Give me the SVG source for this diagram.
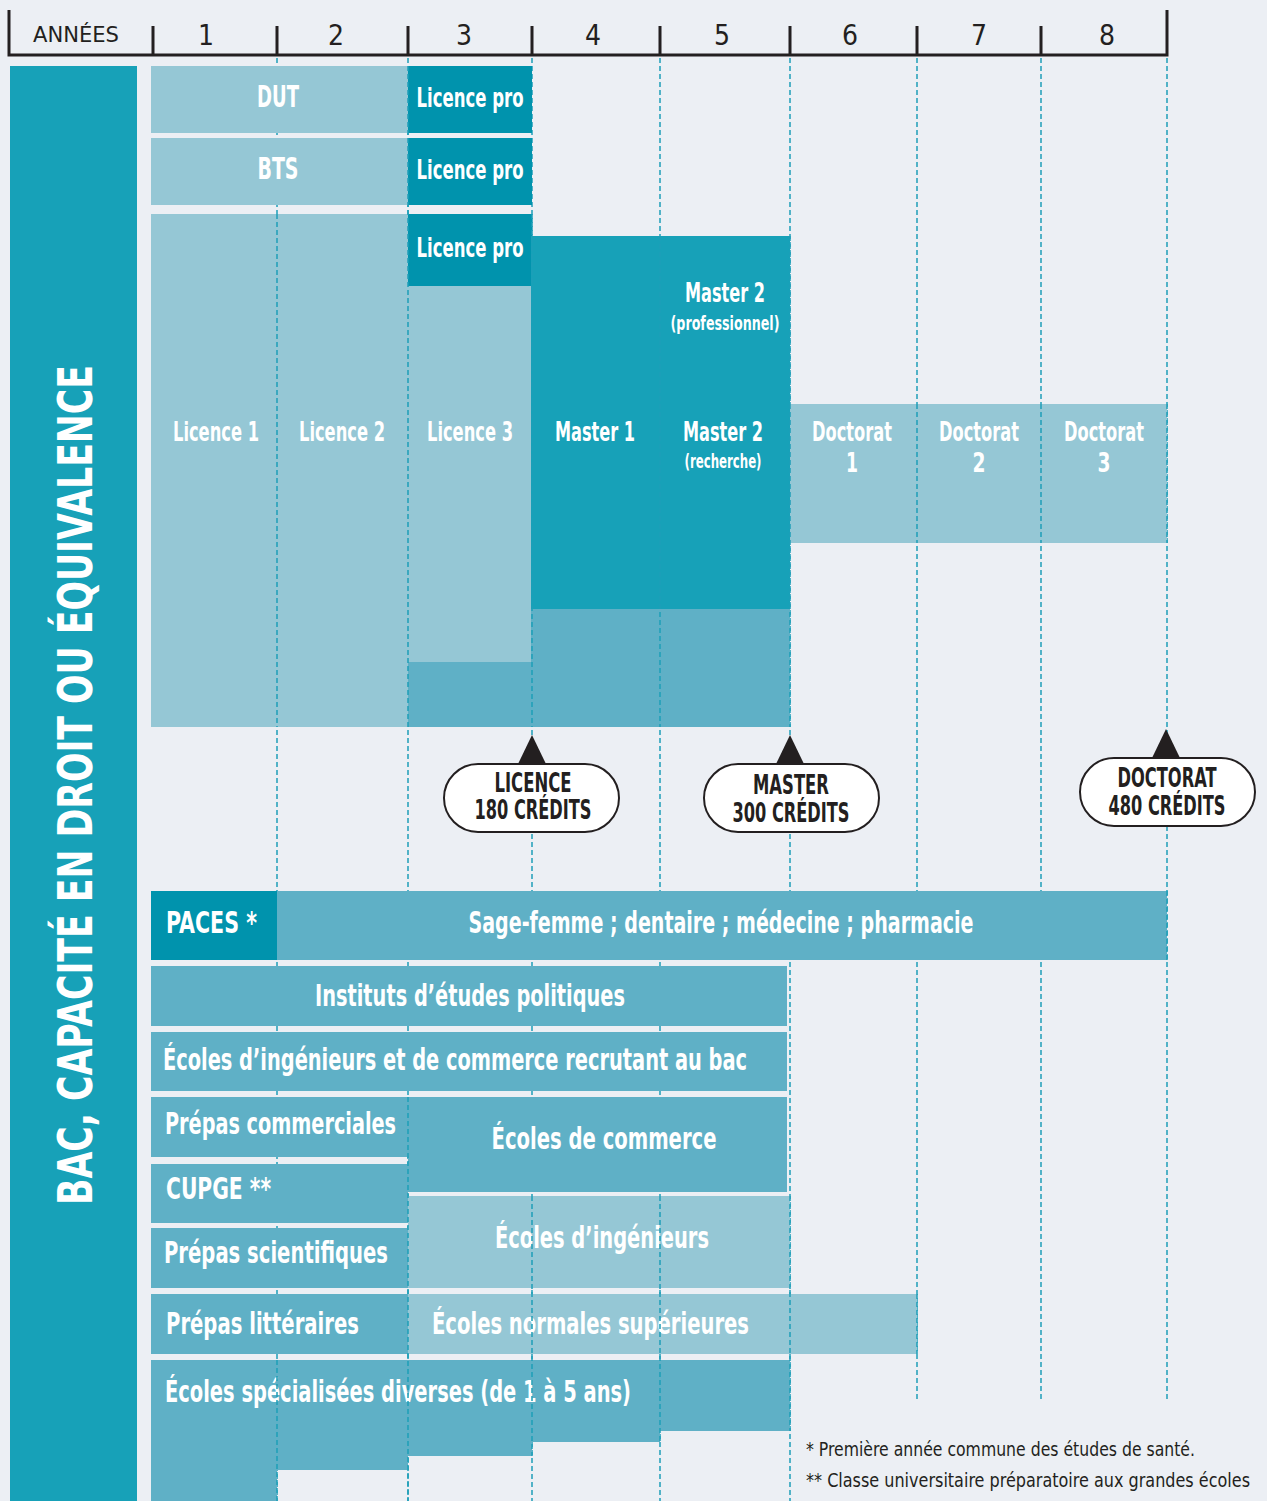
<svg xmlns="http://www.w3.org/2000/svg" width="1267" height="1501" viewBox="0 0 1267 1501">
<defs>
<style>
.bg{fill:#ECEFF4}
.lt{fill:#95C7D5}
.dk{fill:#0093AD}
.md{fill:#17A1B8}
.lo{fill:#5FB0C6}
.grid{stroke:#1E9FB8;stroke-width:1.5;stroke-dasharray:5 3;fill:none}
.axis{stroke:#231F20;stroke-width:3;fill:none}
.t{font-family:"Liberation Sans Narrow","DejaVu Sans Condensed","Liberation Sans",sans-serif}
.w{fill:#FFFFFF;font-weight:bold}
.k{fill:#231F20}
.pill{fill:#FFFFFF;stroke:#231F20;stroke-width:2}
.ptr{fill:#231F20}
</style>
</defs>
<rect class="bg" x="0" y="0" width="1267" height="1501"/>

<g id="grid">
<path class="grid" d="M277 58 V1501 M408 58 V1501 M532 58 V1501 M660 58 V1501 M790 58 V1501 M917 58 V1402 M1041 58 V1402 M1167 58 V1402"/>
</g>

<g id="axis">
<path class="axis" d="M9 10 V55 H1167 V10 M153 26 V55 M277 26 V55 M408 26 V55 M532 26 V55 M660 26 V55 M790 26 V55 M917 26 V55 M1041 26 V55"/>
<text class="t k" x="76" y="42" font-size="22" text-anchor="middle" textLength="86" lengthAdjust="spacingAndGlyphs">ANNÉES</text>
<g class="t k" font-size="28" text-anchor="middle">
<text x="206" y="45">1</text>
<text x="336" y="45">2</text>
<text x="464" y="45">3</text>
<text x="593" y="45">4</text>
<text x="722" y="45">5</text>
<text x="850" y="45">6</text>
<text x="979" y="45">7</text>
<text x="1107" y="45">8</text>
</g>
</g>

<g id="bac">
<rect class="md" x="10" y="66" width="127" height="1435"/>
<text class="t w" transform="translate(92,785) rotate(-90)" font-size="48" text-anchor="middle" textLength="840" lengthAdjust="spacingAndGlyphs">BAC, CAPACITÉ EN DROIT OU ÉQUIVALENCE</text>
</g>

<g id="dut">
<rect class="lt" x="151" y="66" width="257" height="67"/>
<text class="t w" x="278" y="107" font-size="30" text-anchor="middle" textLength="42" lengthAdjust="spacingAndGlyphs">DUT</text>
</g>
<g id="licpro1">
<rect class="dk" x="408" y="66" width="124" height="67"/>
<text class="t w" x="470" y="107" font-size="26" text-anchor="middle" textLength="107" lengthAdjust="spacingAndGlyphs">Licence pro</text>
</g>
<g id="bts">
<rect class="lt" x="151" y="138" width="257" height="67"/>
<text class="t w" x="278" y="179" font-size="30" text-anchor="middle" textLength="41" lengthAdjust="spacingAndGlyphs">BTS</text>
</g>
<g id="licpro2">
<rect class="dk" x="408" y="138" width="124" height="67"/>
<text class="t w" x="470" y="179" font-size="26" text-anchor="middle" textLength="107" lengthAdjust="spacingAndGlyphs">Licence pro</text>
</g>

<g id="licence12">
<rect class="lt" x="151" y="214" width="257" height="513"/>
<text class="t w" x="216" y="441" font-size="27" text-anchor="middle" textLength="86" lengthAdjust="spacingAndGlyphs">Licence 1</text>
<text class="t w" x="342" y="441" font-size="27" text-anchor="middle" textLength="86" lengthAdjust="spacingAndGlyphs">Licence 2</text>
</g>
<g id="licpro3">
<rect class="dk" x="408" y="214" width="124" height="72"/>
<text class="t w" x="470" y="257" font-size="26" text-anchor="middle" textLength="107" lengthAdjust="spacingAndGlyphs">Licence pro</text>
</g>
<g id="licence3">
<rect class="lt" x="408" y="286" width="124" height="376"/>
<text class="t w" x="470" y="441" font-size="27" text-anchor="middle" textLength="86" lengthAdjust="spacingAndGlyphs">Licence 3</text>
</g>
<g id="master">
<rect class="md" x="531" y="236" width="259" height="373"/>
<text class="t w" x="595" y="441" font-size="27" text-anchor="middle" textLength="80" lengthAdjust="spacingAndGlyphs">Master 1</text>
<text class="t w" x="725" y="302" font-size="27" text-anchor="middle" textLength="80" lengthAdjust="spacingAndGlyphs">Master 2</text>
<text class="t w" x="725" y="330" font-size="19" text-anchor="middle" textLength="109" lengthAdjust="spacingAndGlyphs">(professionnel)</text>
<text class="t w" x="723" y="441" font-size="27" text-anchor="middle" textLength="80" lengthAdjust="spacingAndGlyphs">Master 2</text>
<text class="t w" x="723" y="468" font-size="19" text-anchor="middle" textLength="77" lengthAdjust="spacingAndGlyphs">(recherche)</text>
</g>
<g id="lower-lm">
<path class="lo" d="M408 662 H531 V609 H790 V727 H408 Z"/>
</g>
<g id="doctorat">
<rect class="lt" x="790" y="404" width="377" height="139"/>
<text class="t w" x="852" y="441" font-size="27" text-anchor="middle" textLength="80" lengthAdjust="spacingAndGlyphs">Doctorat</text>
<text class="t w" x="852" y="472" font-size="27" text-anchor="middle" textLength="12" lengthAdjust="spacingAndGlyphs">1</text>
<text class="t w" x="979" y="441" font-size="27" text-anchor="middle" textLength="80" lengthAdjust="spacingAndGlyphs">Doctorat</text>
<text class="t w" x="979" y="472" font-size="27" text-anchor="middle" textLength="13" lengthAdjust="spacingAndGlyphs">2</text>
<text class="t w" x="1104" y="441" font-size="27" text-anchor="middle" textLength="80" lengthAdjust="spacingAndGlyphs">Doctorat</text>
<text class="t w" x="1104" y="472" font-size="27" text-anchor="middle" textLength="13" lengthAdjust="spacingAndGlyphs">3</text>
</g>

<g id="paces">
<rect class="dk" x="151" y="891" width="126" height="69"/>
<text class="t w" x="166" y="933" font-size="30" textLength="91" lengthAdjust="spacingAndGlyphs">PACES *</text>
</g>
<g id="sante">
<rect class="lo" x="277" y="891" width="890" height="69"/>
<text class="t w" x="721" y="933" font-size="30" text-anchor="middle" textLength="505" lengthAdjust="spacingAndGlyphs">Sage-femme ; dentaire ; médecine ; pharmacie</text>
</g>
<g id="iep">
<rect class="lo" x="151" y="966" width="636" height="60"/>
<text class="t w" x="470" y="1006" font-size="31" text-anchor="middle" textLength="310" lengthAdjust="spacingAndGlyphs">Instituts d’études politiques</text>
</g>
<g id="ecoles-bac">
<rect class="lo" x="151" y="1032" width="636" height="59"/>
<text class="t w" x="163" y="1070" font-size="31" textLength="584" lengthAdjust="spacingAndGlyphs">Écoles d’ingénieurs et de commerce recrutant au bac</text>
</g>
<g id="prepas-com">
<rect class="lo" x="151" y="1097" width="257" height="60"/>
<text class="t w" x="165" y="1134" font-size="31" textLength="231" lengthAdjust="spacingAndGlyphs">Prépas commerciales</text>
</g>
<g id="ecoles-commerce">
<rect class="lo" x="408" y="1097" width="379" height="95"/>
<text class="t w" x="604" y="1149" font-size="31" text-anchor="middle" textLength="225" lengthAdjust="spacingAndGlyphs">Écoles de commerce</text>
</g>
<g id="cupge">
<rect class="lo" x="151" y="1164" width="257" height="59"/>
<text class="t w" x="166" y="1199" font-size="31" textLength="105" lengthAdjust="spacingAndGlyphs">CUPGE **</text>
</g>
<g id="ecoles-ing">
<rect class="lt" x="408" y="1196" width="382" height="92"/>
<text class="t w" x="602" y="1248" font-size="31" text-anchor="middle" textLength="214" lengthAdjust="spacingAndGlyphs">Écoles d’ingénieurs</text>
</g>
<g id="prepas-sci">
<rect class="lo" x="151" y="1228" width="257" height="60"/>
<text class="t w" x="164" y="1263" font-size="31" textLength="224" lengthAdjust="spacingAndGlyphs">Prépas scientifiques</text>
</g>
<g id="prepas-lit">
<rect class="lo" x="151" y="1294" width="257" height="60"/>
<text class="t w" x="166" y="1334" font-size="31" textLength="193" lengthAdjust="spacingAndGlyphs">Prépas littéraires</text>
</g>
<g id="ens">
<rect class="lt" x="408" y="1294" width="509" height="60"/>
<text class="t w" x="432" y="1334" font-size="31" textLength="317" lengthAdjust="spacingAndGlyphs">Écoles normales supérieures</text>
</g>
<g id="ecoles-spe">
<path class="lo" d="M151 1360 H790 V1431 H660 V1442 H532 V1456 H408 V1470 H277 V1501 H151 Z"/>
<text class="t w" x="165" y="1402" font-size="31" textLength="466" lengthAdjust="spacingAndGlyphs">Écoles spécialisées diverses (de 1 à 5 ans)</text>
</g>

<g id="grid-over">
<path class="grid" d="M277 214 V727 M277 1360 V1501 M408 66 V727 M408 1097 V1501 M532 214 V727 M532 1196 V1456 M660 236 V727 M660 1196 V1442 M790 236 V727 M790 1196 V1431 M917 404 V543 M917 1294 V1354 M1041 404 V543 M1167 404 V543 M1167 891 V960"/>
</g>

<g id="connectors">
<path class="ptr" d="M532 735 L546 764 H518 Z"/>
<path class="ptr" d="M790 735 L804 764 H776 Z"/>
<path class="ptr" d="M1166 729 L1180 758 H1152 Z"/>
</g>

<g id="badge-licence">
<rect class="pill" x="444" y="764" width="175" height="68" rx="34"/>
<text class="t k" x="533" y="792" font-size="26" font-weight="bold" text-anchor="middle" textLength="77" lengthAdjust="spacingAndGlyphs">LICENCE</text>
<text class="t k" x="533" y="819" font-size="26" font-weight="bold" text-anchor="middle" textLength="117" lengthAdjust="spacingAndGlyphs">180 CRÉDITS</text>
</g>
<g id="badge-master">
<rect class="pill" x="704" y="764" width="175" height="68" rx="34"/>
<text class="t k" x="791" y="794" font-size="26" font-weight="bold" text-anchor="middle" textLength="76" lengthAdjust="spacingAndGlyphs">MASTER</text>
<text class="t k" x="791" y="822" font-size="26" font-weight="bold" text-anchor="middle" textLength="117" lengthAdjust="spacingAndGlyphs">300 CRÉDITS</text>
</g>
<g id="badge-doctorat">
<rect class="pill" x="1080" y="758" width="175" height="68" rx="34"/>
<text class="t k" x="1167" y="787" font-size="26" font-weight="bold" text-anchor="middle" textLength="99" lengthAdjust="spacingAndGlyphs">DOCTORAT</text>
<text class="t k" x="1167" y="815" font-size="26" font-weight="bold" text-anchor="middle" textLength="117" lengthAdjust="spacingAndGlyphs">480 CRÉDITS</text>
</g>

<g id="footnotes">
<text class="t k" x="806" y="1456" font-size="19" textLength="389" lengthAdjust="spacingAndGlyphs">* Première année commune des études de santé.</text>
<text class="t k" x="806" y="1487" font-size="19" textLength="444" lengthAdjust="spacingAndGlyphs">** Classe universitaire préparatoire aux grandes écoles</text>
</g>
</svg>
